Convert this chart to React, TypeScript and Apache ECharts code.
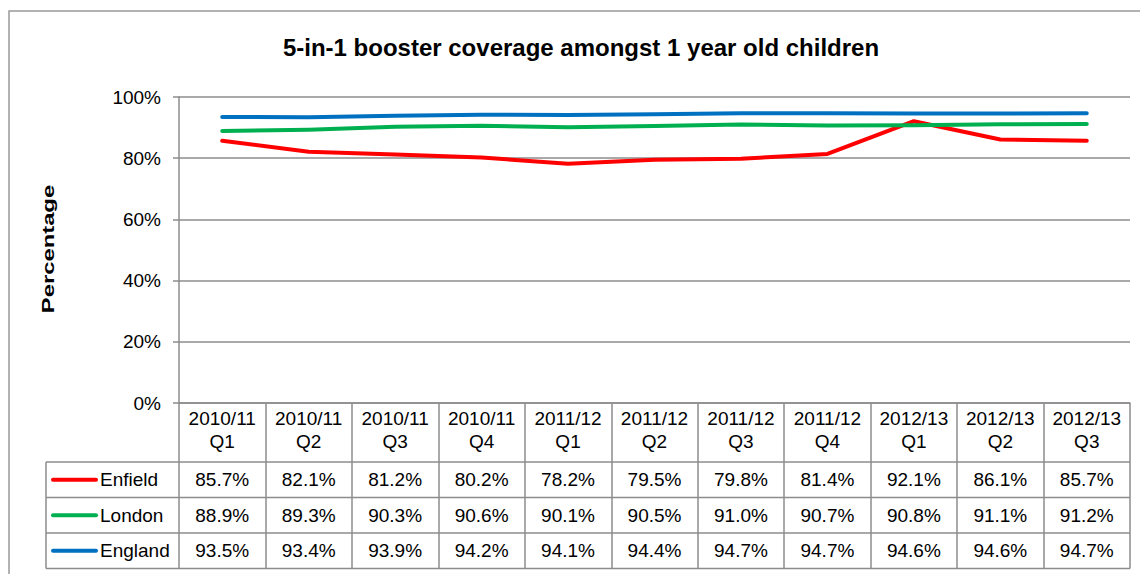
import React, { useEffect, useRef } from "react";
import * as echarts from "echarts";

// Quarterly 5-in-1 booster coverage (%) for 1 year old children
const quarters = [
  "2010/11\nQ1", "2010/11\nQ2", "2010/11\nQ3", "2010/11\nQ4",
  "2011/12\nQ1", "2011/12\nQ2", "2011/12\nQ3", "2011/12\nQ4",
  "2012/13\nQ1", "2012/13\nQ2", "2012/13\nQ3",
];
const enfield = [85.7, 82.1, 81.2, 80.2, 78.2, 79.5, 79.8, 81.4, 92.1, 86.1, 85.7];
const london = [88.9, 89.3, 90.3, 90.6, 90.1, 90.5, 91.0, 90.7, 90.8, 91.1, 91.2];
const england = [93.5, 93.4, 93.9, 94.2, 94.1, 94.4, 94.7, 94.7, 94.6, 94.6, 94.7];
const yTicks = [0, 20, 40, 60, 80, 100];

const seriesDefs = [
  { name: "Enfield", data: enfield, color: "#ff0000" },
  { name: "London", data: london, color: "#00b050" },
  { name: "England", data: england, color: "#0070c0" },
];

const FONT = 'Arial, "Liberation Sans", sans-serif';
const GRAY = "#8c8c8c";
const FS = 19;

// Layout of the plot area and data table beneath it
const PLOT_L = 179;
const PLOT_R = 1130;
const PLOT_T = 97;
const PLOT_B = 403;
const TABLE_L = 46;
const HEADER_B = 462;
const ROW_H = 35.5;

export default function App() {
  const ref = useRef<HTMLDivElement>(null);

  useEffect(() => {
    if (!ref.current) return;
    const chart = echarts.init(ref.current, null, { renderer: "svg" });

    const rowCenter = (r: number) => HEADER_B + ROW_H * (r + 0.5);

    // One hidden axis per series whose labels fill the table row
    const valueAxes = seriesDefs.map((s, r) => ({
      type: "category",
      gridIndex: 0,
      position: "bottom",
      data: quarters,
      boundaryGap: true,
      axisLine: { show: false },
      axisTick: { show: false },
      splitLine: { show: false },
      axisLabel: {
        interval: 0,
        margin: rowCenter(r) - PLOT_B,
        verticalAlign: "middle",
        fontSize: FS,
        fontFamily: FONT,
        color: "#000",
        formatter: (_v: string, i: number) => s.data[i].toFixed(1) + "%",
      },
    }));

    const tableLines: any[] = [];
    for (let r = 0; r <= seriesDefs.length; r++) {
      const y = HEADER_B + ROW_H * r;
      tableLines.push({
        type: "line",
        shape: { x1: TABLE_L, y1: y, x2: PLOT_R, y2: y },
        style: { stroke: GRAY, lineWidth: 1.5 },
      });
    }
    tableLines.push({
      type: "line",
      shape: { x1: TABLE_L, y1: HEADER_B, x2: TABLE_L, y2: HEADER_B + ROW_H * 3 },
      style: { stroke: GRAY, lineWidth: 1.5 },
    });

    const legendKeys: any[] = [];
    seriesDefs.forEach((s, r) => {
      const y = rowCenter(r);
      legendKeys.push({
        type: "line",
        shape: { x1: 53, y1: y, x2: 96, y2: y },
        style: { stroke: s.color, lineWidth: 4, lineCap: "round" },
      });
      legendKeys.push({
        type: "text",
        x: 100,
        y,
        style: {
          text: s.name,
          fontSize: FS,
          fontFamily: FONT,
          fill: "#000",
          align: "left",
          verticalAlign: "middle",
        },
      });
    });

    chart.setOption({
      animation: false,
      backgroundColor: "#fff",
      grid: {
        left: PLOT_L,
        right: 1140 - PLOT_R,
        top: PLOT_T,
        bottom: 574 - PLOT_B,
        containLabel: false,
      },
      xAxis: [
        {
          type: "category",
          data: quarters,
          boundaryGap: true,
          axisLine: { show: true, lineStyle: { color: GRAY, width: 1.5 } },
          axisTick: {
            show: true,
            interval: 0,
            length: HEADER_B + ROW_H * 3 - PLOT_B,
            lineStyle: { color: GRAY, width: 1.5 },
          },
          axisLabel: {
            interval: 0,
            margin: 4,
            fontSize: FS,
            lineHeight: 23,
            fontFamily: FONT,
            color: "#000",
            align: "center",
          },
        },
        ...valueAxes,
      ],
      yAxis: {
        type: "value",
        min: yTicks[0],
        max: yTicks[yTicks.length - 1],
        interval: 20,
        axisLine: { show: true, lineStyle: { color: GRAY, width: 1.5 } },
        axisTick: { show: true, length: 6, lineStyle: { color: GRAY, width: 1.5 } },
        axisLabel: {
          margin: 18,
          fontSize: FS,
          fontFamily: FONT,
          color: "#000",
          formatter: "{value}%",
        },
        splitLine: { show: true, lineStyle: { color: GRAY, width: 1.5 } },
      },
      series: seriesDefs.map((s) => ({
        name: s.name,
        type: "line",
        data: s.data,
        xAxisIndex: 0,
        symbol: "none",
        lineStyle: { color: s.color, width: 4, cap: "round", join: "round" },
        itemStyle: { color: s.color },
      })),
      graphic: [
        {
          type: "rect",
          shape: { x: 9, y: 11, width: 1145, height: 580 },
          style: { fill: "none", stroke: "#999", lineWidth: 1.5 },
          silent: true,
        },
        {
          type: "text",
          x: 581,
          y: 47,
          style: {
            text: "5-in-1 booster coverage amongst 1 year old children",
            fontSize: 24,
            fontWeight: "bold",
            fontFamily: FONT,
            fill: "#000",
            align: "center",
            verticalAlign: "middle",
          },
        },
        {
          // value axis title, drawn rotated and slightly elongated
          type: "text",
          x: 48,
          y: 249,
          rotation: Math.PI / 2,
          scaleX: 1.4,
          style: {
            text: "Percentage",
            fontSize: 17,
            fontWeight: "bold",
            fontFamily: FONT,
            fill: "#000",
            align: "center",
            verticalAlign: "middle",
          },
        },
        ...tableLines,
        ...legendKeys,
      ],
    });

    return () => chart.dispose();
  }, []);

  return (
    <div
      ref={ref}
      style={{ position: "absolute", left: 0, top: 0, width: 1140, height: 574 }}
    />
  );
}
